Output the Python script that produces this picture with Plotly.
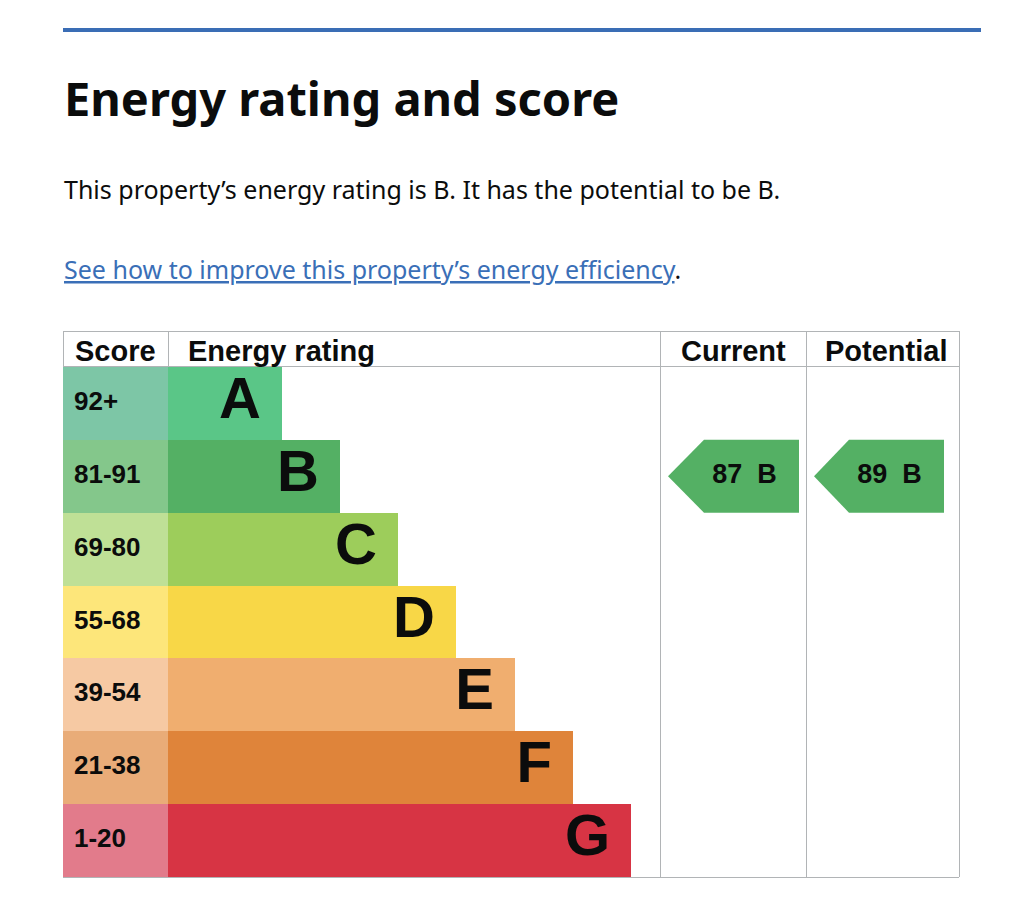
import plotly.graph_objects as go

# ---------------- data ----------------
bands = ["A", "B", "C", "D", "E", "F", "G"]
score_ranges = ["92+", "81-91", "69-80", "55-68", "39-54", "21-38", "1-20"]
band_min_score = [92, 81, 69, 55, 39, 21, 1]
bar_lengths = [114, 172, 230, 288, 347, 405, 463]
bar_colors = ["#5ac687", "#54b064", "#9dcd5b", "#f8d747", "#f0ae6f", "#df843a", "#d73444"]
score_colors = ["#7dc6a6", "#84c78b", "#bfe096", "#fde67a", "#f6c9a3", "#e9ac78", "#e27b8b"]
current_score = 87
potential_score = 89
headers = ["Score", "Energy rating", "Current", "Potential"]

# ---------------- layout constants (pixels) ----------------
W, H = 1024, 921
TABLE_L, TABLE_R = 63, 959
COL_SCORE_R = 168
COL_CUR_L, COL_POT_L = 660, 806
TABLE_T, HEAD_B, TABLE_B = 331, 367, 877
INK = "#0b0c0c"
GREY = "#b1b4b6"
LINK = "#3a6fb7"
TFONT = "Liberation Sans"


def px(x):
    return x / W


def py(y):
    return 1 - y / H


def band_index(score):
    for i, m in enumerate(band_min_score):
        if score >= m:
            return i
    return len(bands) - 1


idx = list(range(len(bands)))
fig = go.Figure()

# score column cells
fig.add_trace(go.Bar(
    orientation="h", y=idx, x=[COL_SCORE_R - TABLE_L] * len(bands), base=TABLE_L,
    width=1, marker=dict(color=score_colors, line=dict(width=0)),
    hoverinfo="skip", showlegend=False))

# energy rating bars
fig.add_trace(go.Bar(
    orientation="h", y=idx, x=bar_lengths, base=COL_SCORE_R,
    width=1, marker=dict(color=bar_colors, line=dict(width=0)),
    hoverinfo="skip", showlegend=False))

# band letters
fig.add_trace(go.Scatter(
    x=[COL_SCORE_R + L - 21 for L in bar_lengths], y=idx, mode="text",
    text=bands, textposition="middle left",
    textfont=dict(family=TFONT, size=58, color=INK, weight="bold"),
    hoverinfo="skip", showlegend=False))

# score range labels
fig.add_trace(go.Scatter(
    x=[TABLE_L + 11] * len(bands), y=idx, mode="text",
    text=[f"<b>{s}</b>" for s in score_ranges], textposition="middle right",
    textfont=dict(family=TFONT, size=26, color=INK),
    hoverinfo="skip", showlegend=False))

# arrows for current / potential
for score, (tip, corner, right) in [(current_score, (COL_CUR_L + 8, COL_CUR_L + 44, COL_CUR_L + 139)),
                                    (potential_score, (COL_POT_L + 8, COL_POT_L + 43, COL_POT_L + 138))]:
    b = band_index(score)
    fig.add_trace(go.Scatter(
        x=[tip, corner, right, right, corner, tip],
        y=[b, b - 0.5, b - 0.5, b + 0.5, b + 0.5, b],
        mode="lines", fill="toself", fillcolor=bar_colors[b],
        line=dict(width=0, color=bar_colors[b]),
        hoverinfo="skip", showlegend=False))
    fig.add_trace(go.Scatter(
        x=[(corner + right) / 2 - 7], y=[b], mode="text",
        text=[f"<b>{score}\u00a0 {bands[b]}</b>"], textposition="middle center",
        textfont=dict(family=TFONT, size=27, color=INK),
        hoverinfo="skip", showlegend=False))

# ---------------- shapes ----------------
shapes = []
# top blue rule
shapes.append(dict(type="rect", xref="paper", yref="paper",
                   x0=px(63), x1=px(981), y0=py(32), y1=py(28),
                   fillcolor="#3a6db5", line=dict(width=0)))


def hline(y, x0=TABLE_L, x1=TABLE_R):
    shapes.append(dict(type="line", xref="paper", yref="paper",
                       x0=px(x0), x1=px(x1), y0=py(y), y1=py(y),
                       line=dict(color=GREY, width=1)))


def vline(x, y0=TABLE_T, y1=TABLE_B):
    shapes.append(dict(type="line", xref="paper", yref="paper",
                       x0=px(x), x1=px(x), y0=py(y0), y1=py(y1),
                       line=dict(color=GREY, width=1)))


hline(TABLE_T + 0.5)
hline(HEAD_B - 0.5)
hline(TABLE_B + 0.5)
vline(TABLE_L + 0.5, TABLE_T, HEAD_B)
vline(COL_SCORE_R + 0.5, TABLE_T, HEAD_B)
vline(COL_CUR_L + 0.5)
vline(COL_POT_L + 0.5)
vline(TABLE_R + 0.5)

# ---------------- annotations ----------------
ann = []
head_x = [TABLE_L + 10, COL_SCORE_R + 18, COL_CUR_L + 19, COL_POT_L + 17]
for h, x in zip(headers, head_x):
    ann.append(dict(text=f"<b>{h}</b>", x=px(x), y=py(351), xref="paper", yref="paper",
                    xanchor="left", yanchor="middle", showarrow=False,
                    font=dict(family=TFONT, size=29, color=INK)))

ann.append(dict(text="<b>Energy rating and score</b>", x=px(62), y=py(98),
                xref="paper", yref="paper", xanchor="left", yanchor="middle",
                showarrow=False, font=dict(family="Noto Sans", size=47, color=INK)))
ann.append(dict(text="This property\u2019s energy rating is B. It has the potential to be B.",
                x=px(62), y=py(189), xref="paper", yref="paper", xanchor="left",
                yanchor="middle", showarrow=False,
                font=dict(family="Noto Sans", size=25, color=INK)))
ann.append(dict(text=f"<span style='color:{LINK}'><u>See how to improve this property\u2019s energy efficiency</u></span>.",
                x=px(62), y=py(269), xref="paper", yref="paper", xanchor="left",
                yanchor="middle", showarrow=False,
                font=dict(family="Noto Sans", size=25, color=INK)))

fig.update_layout(
    width=W, height=H, autosize=False,
    margin=dict(l=0, r=0, t=0, b=0, pad=0),
    paper_bgcolor="white", plot_bgcolor="rgba(0,0,0,0)",
    barmode="overlay", bargap=0,
    xaxis=dict(range=[0, W], domain=[0, 1], visible=False, fixedrange=True),
    yaxis=dict(range=[len(bands) - 0.5, -0.5], domain=[1 - TABLE_B / H, 1 - HEAD_B / H],
               visible=False, fixedrange=True),
    shapes=shapes, annotations=ann,
)

fig.write_html("out.html", config={"displayModeBar": False})
